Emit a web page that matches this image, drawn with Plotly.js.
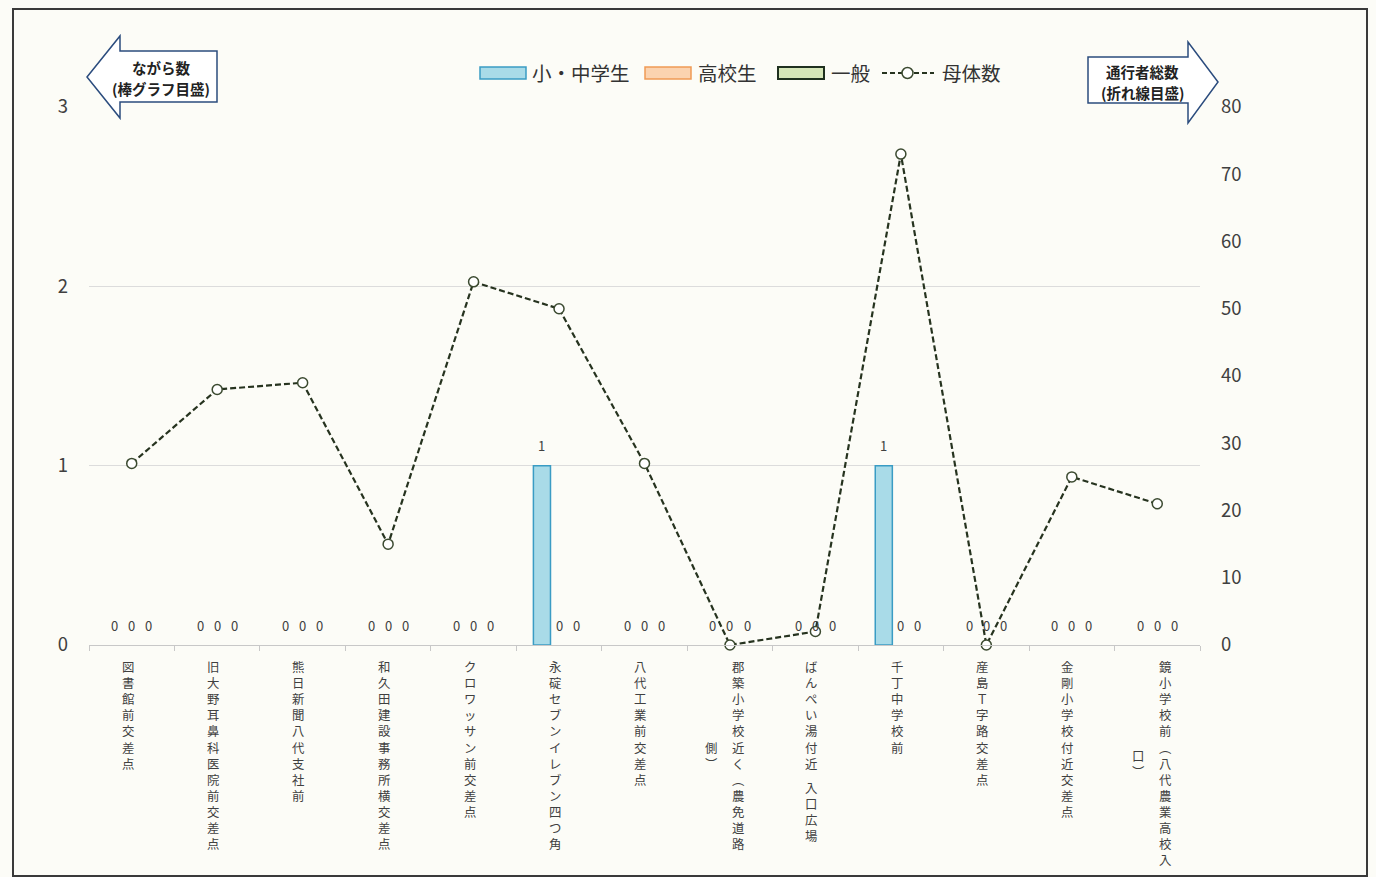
<!DOCTYPE html>
<html><head><meta charset="utf-8">
<script src="https://cdn.plot.ly/plotly-3.0.1.min.js"></script>
<style>body{margin:0;background:#fcfcf7}</style>
</head><body><div id="chart" style="width:1376px;height:877px"></div>
<script>
const categories = [
  "図書館前交差点",
  "旧大野耳鼻科医院前交差点",
  "熊日新聞八代支社前",
  "和久田建設事務所横交差点",
  "クロワッサン前交差点",
  "永碇セブンイレブン四つ角",
  "八代工業前交差点",
  "郡築小学校近く（農免道路側）",
  "ばんぺい湯付近 入口広場",
  "千丁中学校前",
  "産島Ｔ字路交差点",
  "金剛小学校付近交差点",
  "鏡小学校前（八代農業高校入口）"
];
const elementary = [0,0,0,0,0,1,0,0,0,1,0,0,0];
const highSchool = [0,0,0,0,0,0,0,0,0,0,0,0,0];
const general    = [0,0,0,0,0,0,0,0,0,0,0,0,0];
const totalPassers = [27,38,39,15,54,50,27,0,2,73,0,25,21];
const seriesNames = ["小・中学生","高校生","一般","母体数"];
const leftTicks = [0,1,2,3];
const rightTicks = [0,10,20,30,40,50,60,70,80];
const leftArrowText = ["ながら数","(棒グラフ目盛)"];
const rightArrowText = ["通行者総数","(折れ線目盛)"];

const W = 1376, H = 877, L = 89, R = 1200, T = 107, B = 645;
const px = x => (x - L) / (R - L);
const py = y => (B - y) / (B - T);
const txtColor = '#404040';
const font = 'Noto Sans CJK JP';
const BARGAP = 0.4;

const barSeries = [
  {name: seriesNames[0], y: elementary, fill:'#a9dbe8', edge:'#3a9cc4', ew:1.5},
  {name: seriesNames[1], y: highSchool, fill:'#fbd3b0', edge:'#f09a55', ew:1.5},
  {name: seriesNames[2], y: general,    fill:'#d5e6b8', edge:'#1f301f', ew:2}
];
const lineStyle = {color:'#26331f', width:2.2, dash:'6px,3px'};
const markerStyle = {symbol:'circle', size:10, color:'#ffffff', line:{color:'#3b4a30', width:1.5}};

const traces = barSeries.map(s => ({
  type:'bar', name:s.name, x:categories, y:s.y, yaxis:'y', showlegend:false,
  marker:{color:s.fill, line:{color:s.edge, width:s.y.map(v => v ? s.ew : 0)}}
}));
traces.push({type:'scatter', mode:'lines+markers', name:seriesNames[3], x:categories, y:totalPassers,
  yaxis:'y2', showlegend:false, line:lineStyle, marker:markerStyle, cliponaxis:false});

const annotations = [];

// bar value labels
const bw = (R - L) / categories.length * (1 - BARGAP) / barSeries.length;
barSeries.forEach((s, j) => {
  s.y.forEach((v, k) => {
    annotations.push({xref:'x', yref:'y', x:k, y:v, xshift:(j - (barSeries.length - 1) / 2) * bw,
      yshift:20, xanchor:'center', yanchor:'middle', showarrow:false, text:String(v),
      font:{size:13, color:txtColor, family:font}});
  });
});

// vertical (tategaki) category labels
const vmap = {'（':'︵','）':'︶'};
function columns(s){
  const chars = Array.from(s).map(c => vmap[c] || c);
  const cols = [[]];
  for (const c of chars){
    let cur = cols[cols.length-1];
    if (cur.filter(ch => ch !== ' ').length >= 13){
      const nc = [];
      if (c === '︶') nc.push(cur.pop());
      cols.push(nc); cur = nc;
    }
    cur.push(c);
  }
  return cols;
}
const LFS = 12.4, STEP = LFS * 1.3, TOP = 12, COLGAP = 27;
const colUnits = col => col.reduce((a, c) => a + (c === ' ' ? 0.5 : 1), 0);
categories.forEach((cat, k) => {
  const cols = columns(cat);
  const n0 = colUnits(cols[0]);
  cols.forEach((col, j) => {
    const xoff = ((cols.length - 1) / 2 - j) * COLGAP - (cols.length > 1 ? 5 : 4);
    let pos = (n0 - colUnits(col)) / 2;
    let run = [];
    const flush = () => {
      if (!run.length) return;
      annotations.push({xref:'x', yref:'paper', x:k, y:0, xanchor:'center', yanchor:'top',
        xshift:xoff, yshift:-(TOP + pos * STEP), showarrow:false, text:run.join('<br>'),
        align:'center', borderpad:0, font:{size:LFS, color:txtColor, family:font}});
      pos += run.length; run = [];
    };
    col.forEach(ch => {
      if (ch === ' ') { flush(); pos += 0.5; } else run.push(ch);
    });
    flush();
  });
});

// arrow texts
leftArrowText.forEach((t,i)=>annotations.push({xref:'paper', yref:'paper', x:px(161), y:py(67+i*21),
  xanchor:'center', yanchor:'middle', showarrow:false, text:'<b>'+t+'</b>', font:{size:14.5, color:'#222', family:font}}));
rightArrowText.forEach((t,i)=>annotations.push({xref:'paper', yref:'paper', x:px(1142), y:py(71+i*21),
  xanchor:'center', yanchor:'middle', showarrow:false, text:'<b>'+t+'</b>', font:{size:14.5, color:'#222', family:font}}));

const path = pts => 'M' + pts.map(p => px(p[0]) + ',' + py(p[1])).join(' L') + ' Z';
const shapes = [
  {type:'rect', xref:'paper', yref:'paper', x0:px(13), x1:px(1367), y0:py(9), y1:py(876),
    line:{color:'#3a3a3a', width:2}, layer:'below'},
  {type:'path', xref:'paper', yref:'paper', path: path([[87,77],[120,36],[120,51],[217,51],[217,102],[120,102],[120,118]]),
    fillcolor:'#ffffff', line:{color:'#2b4c7e', width:1.5}},
  {type:'path', xref:'paper', yref:'paper', path: path([[1218,82],[1188,42],[1188,57],[1088,57],[1088,103],[1188,103],[1188,123]]),
    fillcolor:'#ffffff', line:{color:'#2b4c7e', width:1.5}}
];

// legend (wide swatches as in the original)
const LY = 73;
const legendItems = [
  {x0:480, tx:530, s:barSeries[0]},
  {x0:645, tx:696, s:barSeries[1]},
  {x0:778, tx:829, s:barSeries[2]}
];
legendItems.forEach(it => {
  shapes.push({type:'rect', xref:'paper', yref:'paper', x0:px(it.x0), x1:px(it.x0+46), y0:py(LY+6), y1:py(LY-6),
    fillcolor:it.s.fill, line:{color:it.s.edge, width:it.s.ew}});
  annotations.push({xref:'paper', yref:'paper', x:px(it.tx), y:py(LY), xanchor:'left', yanchor:'middle',
    showarrow:false, text:it.s.name, font:{size:19.5, color:'#333', family:font}});
});
shapes.push({type:'line', xref:'paper', yref:'paper', x0:px(882), x1:px(934), y0:py(LY), y1:py(LY),
  line:{color:lineStyle.color, width:2, dash:'5px,3px'}});
shapes.push({type:'circle', xref:'paper', yref:'paper', x0:px(902), x1:px(913), y0:py(LY+5.5), y1:py(LY-5.5),
  fillcolor:'#ffffff', line:{color:markerStyle.line.color, width:1.5}});
annotations.push({xref:'paper', yref:'paper', x:px(940), y:py(LY), xanchor:'left', yanchor:'middle',
  showarrow:false, text:seriesNames[3], font:{size:19.5, color:'#333', family:font}});

const layout = {
  width: W, height: H,
  margin: {l:L, r:W-R, t:T, b:H-B, pad:0},
  paper_bgcolor:'#fcfcf7', plot_bgcolor:'#fcfcf7',
  font:{family:font, color:txtColor},
  barmode:'group', bargap:BARGAP, bargroupgap:0,
  showlegend:false,
  xaxis:{type:'category', range:[-0.5,12.5], showticklabels:false, ticks:'outside', tickson:'boundaries',
    ticklen:5, tickcolor:'#c8c8c8', showline:true, linecolor:'#c8c8c8', linewidth:1, showgrid:false, fixedrange:true},
  yaxis:{range:[0,3], tickvals:leftTicks, ticktext:leftTicks.map(String), showgrid:true, gridcolor:'#dcdcdc', gridwidth:1,
    zeroline:false, showline:false, tickfont:{size:18.5, color:txtColor, family:font}, ticklabelstandoff:20},
  yaxis2:{range:[0,80], tickvals:rightTicks, ticktext:rightTicks.map(String), overlaying:'y', side:'right',
    showgrid:false, zeroline:false, showline:false, tickfont:{size:18.5, color:txtColor, family:font}, ticklabelstandoff:20},
  annotations, shapes
};
Plotly.newPlot('chart', traces, layout, {displayModeBar:false, staticPlot:true});
</script></body></html>
